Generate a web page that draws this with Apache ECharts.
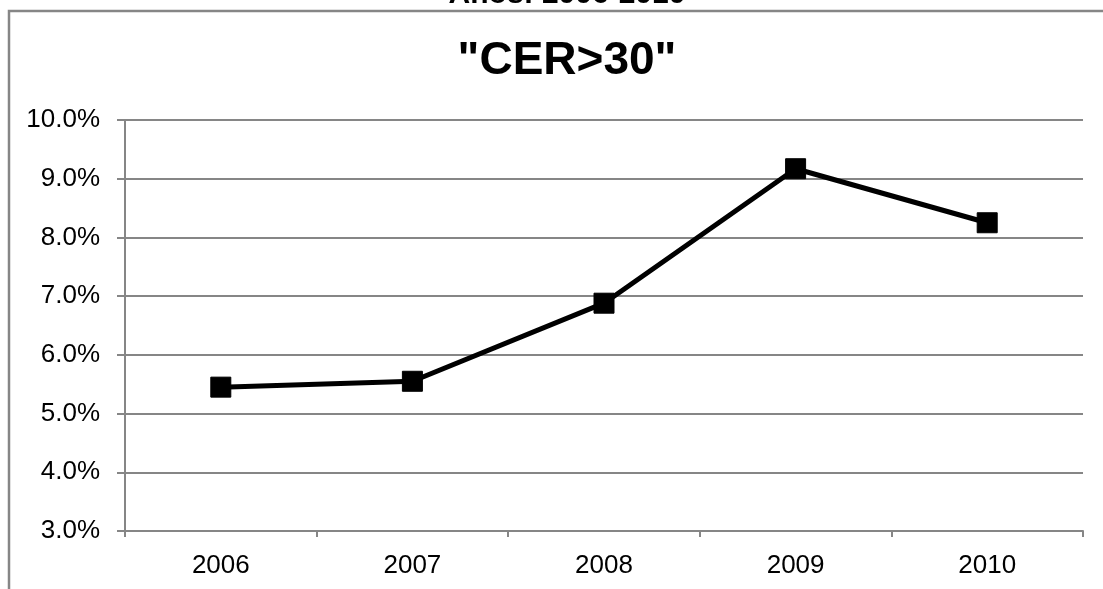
<!DOCTYPE html>
<html>
<head>
<meta charset="utf-8">
<script src="https://cdn.jsdelivr.net/npm/echarts@6/dist/echarts.min.js"></script>
<style>
html,body{margin:0;padding:0;background:#fff;}
#c{width:1103px;height:589px;}
</style>
</head>
<body>
<div id="c"></div>
<script>
const categories = ['2006', '2007', '2008', '2009', '2010'];
const cerValues = [5.45, 5.55, 6.88, 9.17, 8.25];
const yMin = 3, yMax = 10, yStep = 1;
const titleText = '"CER>30"';
const topText = 'Años: 2006-2010';

const chart = echarts.init(document.getElementById('c'), null, {renderer: 'canvas'});
const FONT = '"Liberation Sans", Arial, sans-serif';
chart.setOption({
  backgroundColor: '#fff',
  animation: false,
  title: [
    {text: titleText, left: 562, textAlign: 'center', top: 33,
     textStyle: {fontFamily: FONT, fontSize: 46, fontWeight: 'bold', color: '#000'}},
    {text: topText, left: 562, textAlign: 'center', top: -25,
     textStyle: {fontFamily: FONT, fontSize: 30, fontWeight: 'bold', color: '#000'}}
  ],
  graphic: [
    {type: 'rect', shape: {x: 9, y: 11, width: 1110, height: 600},
     style: {fill: 'none', stroke: '#868686', lineWidth: 2.5}, z: 0}
  ],
  grid: {left: 125, right: 20, top: 120, bottom: 58, containLabel: false},
  xAxis: {
    type: 'category', data: categories, boundaryGap: true,
    axisLine: {lineStyle: {color: '#868686', width: 2}},
    axisTick: {show: true, length: 6, lineStyle: {color: '#868686', width: 2}},
    axisLabel: {fontFamily: FONT, fontSize: 26, color: '#000', margin: 22}
  },
  yAxis: {
    type: 'value', min: yMin, max: yMax, interval: yStep,
    axisLine: {show: true, lineStyle: {color: '#868686', width: 2}},
    axisTick: {show: true, length: 8, lineStyle: {color: '#868686', width: 2}},
    splitLine: {show: true, lineStyle: {color: '#868686', width: 2}},
    axisLabel: {fontFamily: FONT, fontSize: 26, color: '#000', margin: 25,
      formatter: v => v.toFixed(1) + '%'}
  },
  series: [{
    type: 'line', data: cerValues,
    symbol: 'rect', symbolSize: 20,
    lineStyle: {color: '#000', width: 5},
    itemStyle: {color: '#000', borderColor: '#000'},
    z: 5
  }]
});
</script>
</body>
</html>
